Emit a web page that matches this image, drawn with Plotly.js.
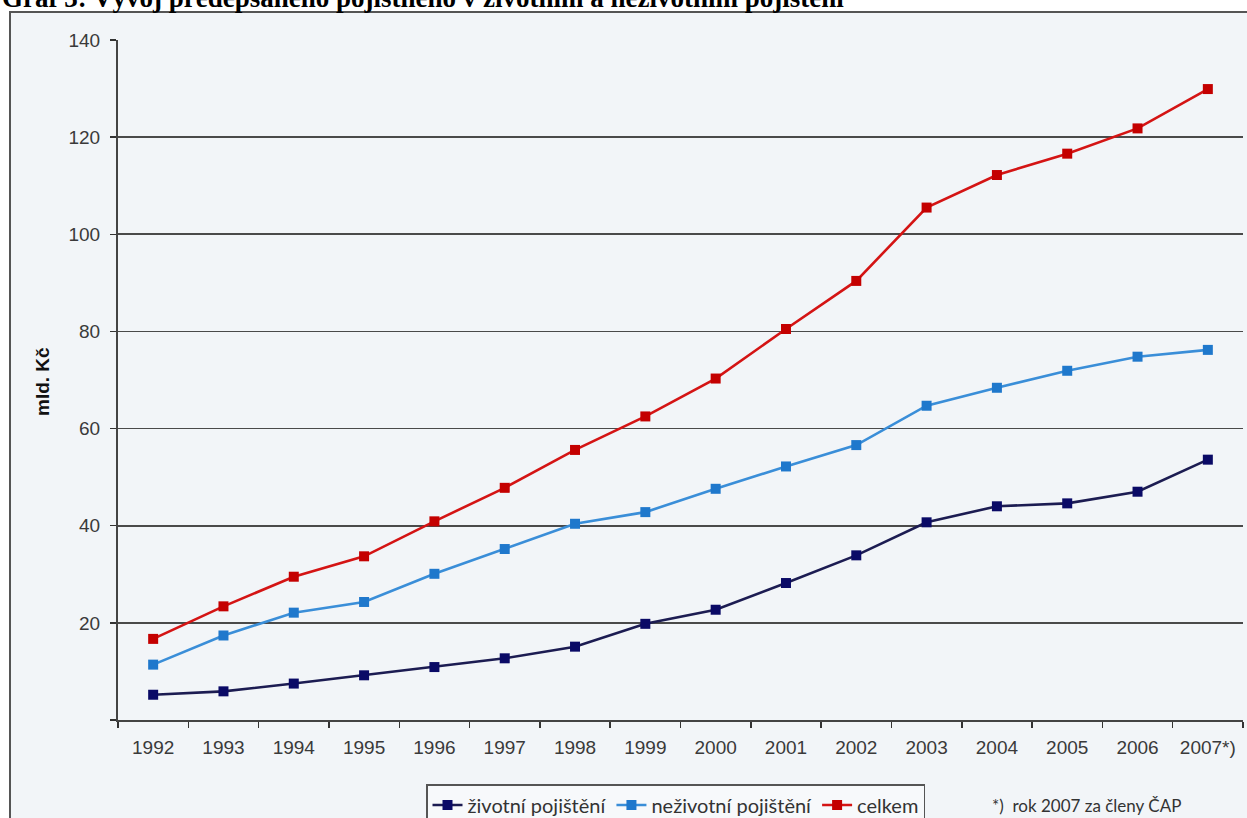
<!DOCTYPE html>
<html>
<head>
<meta charset="utf-8">
<script src="https://cdn.plot.ly/plotly-3.0.1.min.js"></script>
<style>
  html, body { margin: 0; padding: 0; background: #ffffff; }
  #chart { width: 1247px; height: 818px; }
</style>
</head>
<body>
<div id="chart"></div>
<script>
// Předepsané pojistné (mld. Kč), 1992–2007
const years = ['1992','1993','1994','1995','1996','1997','1998','1999',
               '2000','2001','2002','2003','2004','2005','2006','2007*)'];
const zivotni   = [5.2, 5.9, 7.5, 9.2, 10.9, 12.7, 15.1, 19.8, 22.7, 28.2, 33.9, 40.7, 44.0, 44.6, 47.0, 53.6];
const nezivotni = [11.4, 17.4, 22.1, 24.3, 30.1, 35.2, 40.4, 42.8, 47.6, 52.2, 56.6, 64.7, 68.4, 71.9, 74.8, 76.2];
const celkem    = [16.7, 23.4, 29.5, 33.7, 40.9, 47.8, 55.6, 62.5, 70.3, 80.5, 90.4, 105.5, 112.2, 116.6, 121.8, 129.9];
const seriesNames = ['životní pojištění', 'neživotní pojištění', 'celkem'];
const yTicks = [0, 20, 40, 60, 80, 100, 120, 140];
const yTickText = ['', '20', '40', '60', '80', '100', '120', '140'];

const tickFontFamily = '"Liberation Sans Narrow", "Arial Narrow", Arial, sans-serif';
const legendFont = 'Lato, "Open Sans", Arial, sans-serif';

function line(y, name, lineColor, markerColor) {
  return {
    x: years, y: y, name: name, type: 'scatter', mode: 'lines+markers',
    line: { color: lineColor, width: 2.6 },
    marker: { symbol: 'square', size: 10, color: markerColor, line: { width: 0 } }
  };
}

const data = [
  line(zivotni,   seriesNames[0], '#1c1c52', '#0a0a66'),
  line(nezivotni, seriesNames[1], '#3a8ed8', '#1f78cc'),
  line(celkem,    seriesNames[2], '#d41414', '#c40000')
];

// plot area: 118..1243 px horizontally, 40..720 px vertically
const W = 1125, H = 680, L = 118, T = 40;
const px = x => (x - L) / W;
const py = y => (T + H - y) / H;

const layout = {
  width: 1247, height: 818,
  margin: { l: L, r: 1247 - L - W, t: T, b: 818 - T - H, autoexpand: false },
  paper_bgcolor: '#ffffff',
  plot_bgcolor: 'rgba(0,0,0,0)',
  showlegend: true,
  xaxis: {
    type: 'category',
    range: [-0.5, 15.5],
    tickson: 'boundaries',
    ticks: 'outside', ticklen: 6, tickwidth: 1.5, tickcolor: '#333',
    showline: true, linecolor: '#444', linewidth: 2,
    showgrid: false, zeroline: false,
    ticklabelstandoff: 9,
    tickfont: { family: tickFontFamily, size: 19, color: '#3a3a3a' }
  },
  yaxis: {
    range: [0, 140],
    tickvals: yTicks, ticktext: yTickText,
    ticks: 'outside', ticklen: 6, tickwidth: 1.5, tickcolor: '#333',
    showline: true, linecolor: '#444', linewidth: 2,
    showgrid: true, gridcolor: '#4a4a4a', gridwidth: 1.8,
    zeroline: false,
    ticklabelstandoff: 6,
    tickfont: { family: tickFontFamily, size: 19, color: '#3a3a3a' }
  },
  legend: {
    orientation: 'h',
    x: px(426), xanchor: 'left',
    y: py(784), yanchor: 'top',
    bgcolor: '#f7f9fb', bordercolor: '#555', borderwidth: 1.5,
    font: { family: legendFont, size: 20, color: '#333' },
    itemwidth: 30, tracegroupgap: 0
  },
  shapes: [
    {
      type: 'rect', layer: 'below', xref: 'paper', yref: 'paper',
      x0: px(10), x1: px(1260), y0: py(840), y1: py(12),
      fillcolor: '#f2f5f8', line: { color: '#555', width: 2 }
    }
  ],
  annotations: [
    {
      text: '<b>Graf 3: Vývoj předepsaného pojistného v životním a neživotním pojištění</b>',
      xref: 'paper', yref: 'paper', x: px(0), y: py(15),
      xanchor: 'left', yanchor: 'bottom', showarrow: false,
      font: { family: '"Liberation Serif", "Times New Roman", serif', size: 27, color: '#000' }
    },
    {
      text: '<b>mld. Kč</b>',
      xref: 'paper', yref: 'paper', x: px(42), y: py(382),
      xanchor: 'center', yanchor: 'middle', textangle: -90, showarrow: false,
      font: { family: 'Arial, "Liberation Sans", sans-serif', size: 19, color: '#111' }
    },
    {
      text: '*)  rok 2007 za členy ČAP',
      xref: 'paper', yref: 'paper', x: px(990), y: py(805),
      xanchor: 'left', yanchor: 'middle', showarrow: false,
      font: { family: legendFont, size: 17, color: '#333' }
    }
  ]
};

Plotly.newPlot('chart', data, layout, { displayModeBar: false, staticPlot: true });
</script>
</body>
</html>
